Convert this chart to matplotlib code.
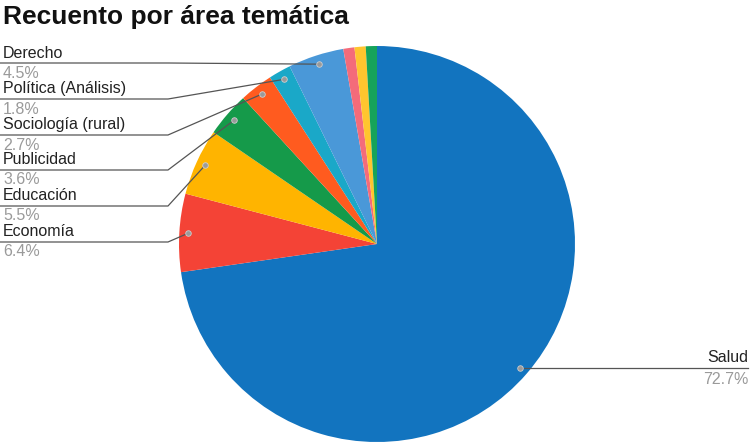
import numpy as np
import matplotlib
matplotlib.use("Agg")
import matplotlib.pyplot as plt

plt.rcParams['font.family'] = ['Liberation Sans', 'DejaVu Sans']

# counts per area (percentages are derived from them)
areas = ['Salud', 'Economía', 'Educación', 'Publicidad', 'Sociología (rural)',
         'Política (Análisis)', 'Derecho', 'Otra 1', 'Otra 2', 'Otra 3']
counts = [80, 7, 6, 4, 3, 2, 5, 1, 1, 1]
colors = ['#1274bf', '#f44336', '#ffb400', '#159a4a', '#ff5b1f',
          '#1aa8c8', '#4a98d8', '#f46b7a', '#ffc52e', '#16a35a']
labelled = ['Derecho', 'Política (Análisis)', 'Sociología (rural)',
            'Publicidad', 'Educación', 'Economía']

W, H = 751, 445
fig = plt.figure(figsize=(W / 100, H / 100), dpi=100)
ax = fig.add_axes([0, 0, 1, 1])
ax.set_xlim(0, W)
ax.set_ylim(0, H)
ax.set_aspect('equal')
ax.axis('off')

def py(y):
    # pixel row -> axes y
    return H - y

cx, cy, r = 377, py(244), 198
ax.pie(counts, colors=colors, startangle=90, counterclock=False,
       center=(cx, cy), radius=r, wedgeprops=dict(linewidth=0))
ax.set_xlim(0, W)
ax.set_ylim(0, H)

total = sum(counts)
pct = [100.0 * c / total for c in counts]
ends = np.cumsum(counts) / total * 360
mids = ends - np.array(counts) / total * 360 / 2
ang = np.radians(90 - mids)
dot_x = cx + 0.955 * r * np.cos(ang)
dot_y = cy + 0.955 * r * np.sin(ang)

line_col = '#555555'
name_col = '#222222'
pct_col = '#9a9a9a'
fs = 11.5

# left side labels
line_rows = [63, 99, 135, 170, 206, 242]
for name, yl in zip(labelled, line_rows):
    i = areas.index(name)
    ax.plot([0, 168, dot_x[i]], [py(yl), py(yl), dot_y[i]],
            color=line_col, lw=0.9, zorder=3)
    ax.text(3, py(yl - 10), name, fontsize=fs, color=name_col,
            ha='left', va='center')
    ax.text(3, py(yl + 10), '%.1f%%' % pct[i], fontsize=fs, color=pct_col,
            ha='left', va='center')
    ax.scatter(dot_x[i], dot_y[i], s=16, color='#9a9a9a',
               edgecolor='#cfcfcf', linewidth=0.6, zorder=4)

# Salud label on the right
i = areas.index('Salud')
ax.plot([dot_x[i], 748], [dot_y[i], dot_y[i]], color=line_col, lw=0.9, zorder=3)
ax.scatter(dot_x[i], dot_y[i], s=16, color='#9a9a9a',
           edgecolor='#cfcfcf', linewidth=0.6, zorder=4)
ax.text(748, dot_y[i] + 10, 'Salud', fontsize=fs, color=name_col,
        ha='right', va='center')
ax.text(748, dot_y[i] - 12, '%.1f%%' % pct[i], fontsize=fs, color=pct_col,
        ha='right', va='center')

ax.text(3, py(17), 'Recuento por área temática', fontsize=19,
        fontweight='bold', color='#111111', ha='left', va='center')

fig.savefig('out.png', dpi=100)
